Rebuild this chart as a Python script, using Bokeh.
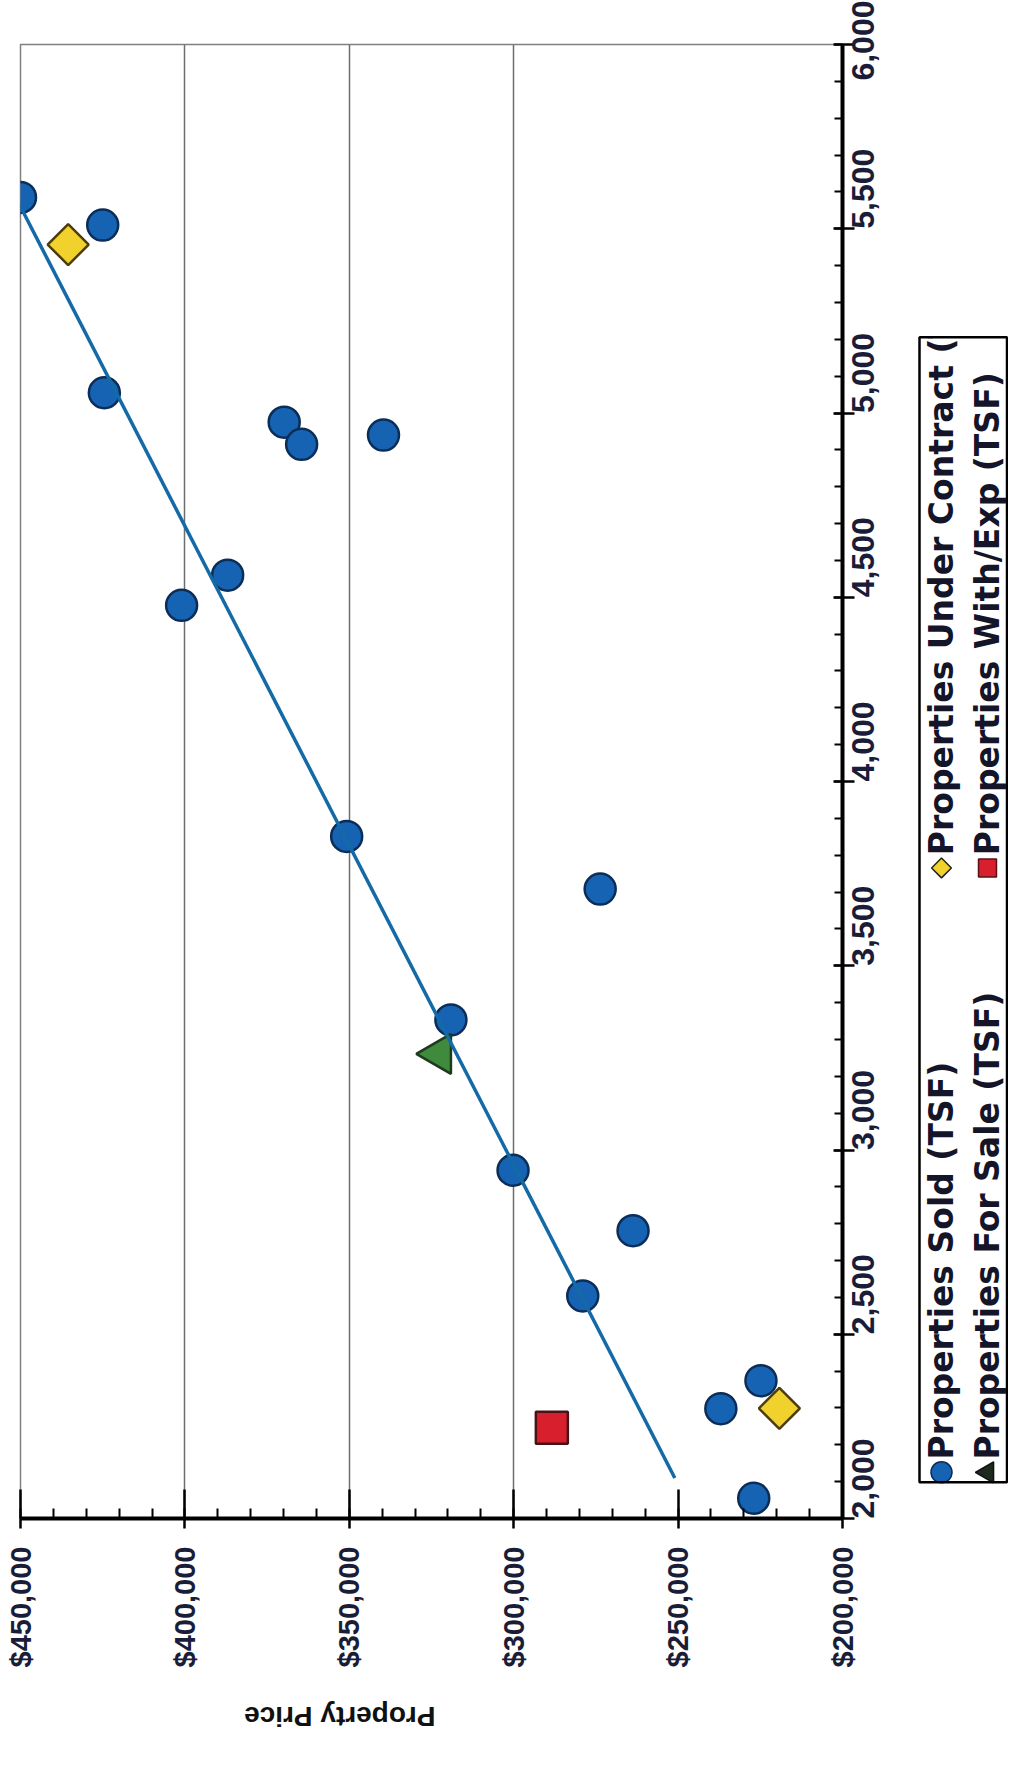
import math
import numpy as np
from bokeh.plotting import figure
from bokeh.layouts import row
from bokeh.models import Range1d, FixedTicker, NumeralTickFormatter, LinearAxis
from bokeh.core.properties import value
from bokeh.embed import file_html
from bokeh.resources import INLINE

# ---------------- data ----------------
sold_sqft = [5585, 5510, 5055, 4975, 4915, 4940, 4560, 4478, 3851, 3708,
             3353, 2945, 2781, 2604, 2298, 2374, 2055]
sold_price = [450000, 425000, 424500, 369800, 364500, 339600, 387000, 401000, 350800, 273700,
              319100, 300200, 263700, 279000, 237000, 224800, 227000]
contract_sqft = [5457, 2299]
contract_price = [435500, 219200]
forsale_sqft = [3261]
forsale_price = [322600]
withexp_sqft = [2246]
withexp_price = [288400]
trend_sqft = [2110, 5650]
trend_price = [251000, 455200]

price_ticks = [200000, 250000, 300000, 350000, 400000, 450000]
sqft_ticks = [2000, 2500, 3000, 3500, 4000, 4500, 5000, 5500, 6000]
grid_prices = [300000, 350000, 400000]

series_names = ["Properties Sold (TSF)", "Properties Under Contract (TSF)",
                "Properties For Sale (TSF)", "Properties With/Exp  (TSF)"]
axis_title = "Property Price"

# ---------------- styles / layout ----------------
FONT = "Liberation Sans"
LEG_FONT = "DejaVu Sans"
TXT = "#1a1d38"
BLUE_F, BLUE_L = "#1763b3", "#0b2d57"
YEL_F, YEL_L = "#f1d22c", "#4d3c0e"
GRN_F, GRN_L = "#3f8a3c", "#1f3a1d"
RED_F, RED_L = "#d81f2e", "#4a1216"
TREND = "#136aa6"

H = 1750
B_TOP, B_BOT = 44, 206
MAIN_W = 914
TITLE_ANCHOR = 382000   # price position where the upside-down axis title starts

p = figure(width=MAIN_W, height=H,
           x_range=Range1d(price_ticks[-1], price_ticks[0]),
           y_range=Range1d(sqft_ticks[0], sqft_ticks[-1]),
           y_axis_location="right", output_backend="svg", toolbar_location=None,
           min_border_left=20, min_border_right=72, min_border_top=B_TOP, min_border_bottom=B_BOT)
p.background_fill_color = "white"
p.border_fill_color = "white"
p.outline_line_color = "#808080"
p.outline_line_width = 1.5

xa = p.xaxis[0]
xa.ticker = FixedTicker(ticks=price_ticks,
                        minor_ticks=list(np.arange(price_ticks[0], price_ticks[-1] + 1, 10000)))
xa.formatter = NumeralTickFormatter(format="$0,0")
xa.major_label_orientation = math.pi / 2
xa.major_label_standoff = 18
xa.major_label_text_font = FONT
xa.major_label_text_font_size = "29px"
xa.major_label_text_font_style = "bold"
xa.major_label_text_color = TXT
xa.major_tick_in = 29
xa.major_tick_out = 10
xa.minor_tick_in = 10
xa.minor_tick_out = 0
xa.axis_line_width = 4
xa.axis_line_color = "black"
xa.major_tick_line_width = 2.5
xa.major_tick_line_color = "black"
xa.minor_tick_line_width = 2
xa.minor_tick_line_color = "black"

# upside-down axis title, drawn as the single label of a second (bare) bottom axis
ta = LinearAxis(ticker=FixedTicker(ticks=[TITLE_ANCHOR]),
                major_label_overrides={TITLE_ANCHOR: axis_title})
ta.major_label_orientation = math.pi
ta.major_label_standoff = 46
ta.major_label_text_font = FONT
ta.major_label_text_font_size = "28px"
ta.major_label_text_font_style = "bold"
ta.major_label_text_color = "#111111"
ta.axis_line_color = None
ta.major_tick_line_color = None
ta.minor_tick_line_color = None
ta.major_tick_in = 0
ta.major_tick_out = 0
p.add_layout(ta, "below")

ya = p.yaxis[0]
ya.ticker = FixedTicker(ticks=sqft_ticks,
                        minor_ticks=list(np.arange(sqft_ticks[0], sqft_ticks[-1] + 1, 100)))
ya.formatter = NumeralTickFormatter(format="0,0")
ya.major_label_orientation = math.pi / 2
ya.major_label_standoff = 8
ya.major_label_text_font = FONT
ya.major_label_text_font_size = "32px"
ya.major_label_text_font_style = "bold"
ya.major_label_text_color = TXT
ya.major_tick_in = 9
ya.major_tick_out = 12
ya.minor_tick_in = 8
ya.minor_tick_out = 0
ya.axis_line_width = 4
ya.axis_line_color = "black"
ya.major_tick_line_width = 2.5
ya.major_tick_line_color = "black"
ya.minor_tick_line_width = 2
ya.minor_tick_line_color = "black"

p.xgrid.ticker = FixedTicker(ticks=grid_prices)
p.xgrid.grid_line_color = "#6e6e6e"
p.xgrid.grid_line_width = 1.5
p.ygrid.visible = False

p.scatter(sold_price, sold_sqft, marker="circle", size=31,
          fill_color=BLUE_F, line_color=BLUE_L, line_width=2.5)
p.scatter(contract_price, contract_sqft, marker="square", angle=math.pi / 4, size=29,
          fill_color=YEL_F, line_color=YEL_L, line_width=2.5)
p.scatter(forsale_price, forsale_sqft, marker="triangle", angle=math.pi / 2, size=40,
          fill_color=GRN_F, line_color=GRN_L, line_width=2.5)
p.scatter(withexp_price, withexp_sqft, marker="square", size=32,
          fill_color=RED_F, line_color=RED_L, line_width=2.5)
p.line(trend_price, trend_sqft, line_color=TREND, line_width=3.5)

# ---------------- legend (rotated), drawn in a plot with the same frame height ----------------
LW = 94
frame_h = H - B_TOP - B_BOT
lg = figure(width=LW, height=H, x_range=Range1d(0, LW), y_range=Range1d(0, frame_h),
            x_axis_type=None, y_axis_type=None, output_backend="svg", toolbar_location=None,
            min_border_left=0, min_border_right=0, min_border_top=B_TOP, min_border_bottom=B_BOT)
lg.background_fill_color = "white"
lg.border_fill_color = "white"
lg.outline_line_color = None
for g in lg.grid:
    g.visible = False

box_l, box_r, box_b, box_t = 5, 92.5, 37, 1202
col_x = [27, 73]
row_y = [47, 662]
entries = [
    (series_names[0], dict(marker="circle", size=21, fill_color=BLUE_F, line_color=BLUE_L), 0, 0),
    (series_names[1], dict(marker="square", angle=math.pi / 4, size=14, fill_color=YEL_F, line_color="#222222"), 0, 1),
    (series_names[2], dict(marker="triangle", angle=math.pi / 2, size=21, fill_color="#1d2a1d", line_color="#111111"), 1, 0),
    (series_names[3], dict(marker="square", size=18, fill_color=RED_F, line_color="#5a1018"), 1, 1),
]
for name, mk, c, r in entries:
    lg.scatter([col_x[c]], [row_y[r]], line_width=1.5, **mk)
    lg.text(x=[col_x[c]], y=[row_y[r] + 13], text=[name], angle=math.pi / 2,
            text_align="left", text_baseline="middle",
            text_font=value(LEG_FONT), text_font_style="bold", text_font_size="33px",
            text_color="#15152a")
# mask text running past the top of the legend box, then draw the box
lg.quad(left=[0], right=[LW], bottom=[box_t], top=[frame_h], fill_color="white", line_color=None)
lg.quad(left=[box_l], right=[box_r], bottom=[box_b], top=[box_t],
        fill_color=None, line_color="black", line_width=2.5)

layout = row(p, lg)
open("out.html", "w").write(file_html(layout, INLINE))
